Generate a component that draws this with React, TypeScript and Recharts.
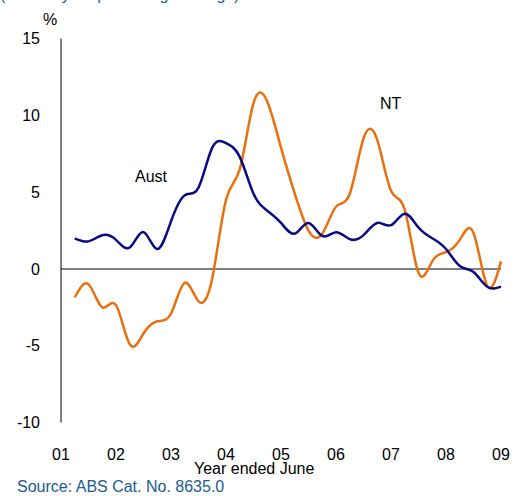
import { LineChart, Line, XAxis, YAxis, ReferenceLine } from 'recharts';

// quarterly, year ended June; Sep-2001 .. Jun-2009
const QUARTERS = [
  2001.25, 2001.5, 2001.75, 2002, 2002.25, 2002.5, 2002.75, 2003,
  2003.25, 2003.5, 2003.75, 2004, 2004.25, 2004.5, 2004.75, 2005,
  2005.25, 2005.5, 2005.75, 2006, 2006.25, 2006.5, 2006.75, 2007,
  2007.25, 2007.5, 2007.75, 2008, 2008.25, 2008.5, 2008.75, 2009,
];
const AUST = [
  2.0, 1.8, 2.2, 1.9, 1.4, 2.4, 1.3, 3.1,
  4.8, 5.3, 7.9, 8.2, 7.3, 4.9, 3.8, 3.0,
  2.3, 3.0, 2.15, 2.4, 1.95, 2.2, 3.0, 2.85,
  3.6, 2.7, 2.0, 1.3, 0.2, -0.2, -1.15, -1.15,
];
const NT = [
  -1.85, -1.0, -2.5, -2.35, -4.9, -4.2, -3.4, -2.9,
  -0.9, -2.1, -0.6, 4.5, 6.5, 10.8, 10.9, 7.9,
  4.9, 2.5, 2.3, 4.05, 4.9, 8.5, 8.4, 5.1,
  3.85, -0.25, 0.5, 1.1, 1.9, 2.35, -1.1, 0.5,
];
const X_TICKS = [2001, 2002, 2003, 2004, 2005, 2006, 2007, 2008, 2009];
const X_LABELS = ['01', '02', '03', '04', '05', '06', '07', '08', '09'];
const Y_TICKS = [-10, -5, 0, 5, 10, 15];

const data = QUARTERS.map((q, i) => ({ q, aust: AUST[i], nt: NT[i] }));

const FONT = '"Liberation Sans", Arial, sans-serif';
const BLUE_TEXT = '#1b5c91';

export default function App() {
  return (
    <div style={{ position: 'absolute', left: 0, top: 0, width: 522, height: 496, overflow: 'hidden', background: '#fff', fontFamily: FONT }}>
      <div style={{ position: 'absolute', left: 0, top: -14, fontSize: 16, color: BLUE_TEXT, whiteSpace: 'nowrap' }}>
        (Year-to-year percentage change)
      </div>
      <LineChart width={522} height={496} data={data} margin={{ top: 38.6, right: 21, bottom: 43.4, left: 0 }}>
        <XAxis
          dataKey="q"
          type="number"
          domain={[2001, 2009]}
          ticks={X_TICKS}
          tickFormatter={(v) => X_LABELS[X_TICKS.indexOf(v)] ?? ''}
          height={30}
          axisLine={false}
          tickLine={false}
          tickSize={0}
          tickMargin={26}
          tick={{ fontSize: 16, fill: '#000', fontFamily: FONT }}
          interval={0}
        />
        <YAxis
          width={61}
          type="number"
          domain={[-10, 15]}
          ticks={Y_TICKS}
          axisLine={{ stroke: '#000', strokeWidth: 1 }}
          tickLine={false}
          tickSize={0}
          tickMargin={21}
          tick={{ fontSize: 16, fill: '#000', fontFamily: FONT }}
          interval={0}
        />
        <ReferenceLine y={0} stroke="#000" strokeWidth={1} />
        <Line type="natural" dataKey="nt" stroke="#e8700f" strokeWidth={2.5} dot={false} isAnimationActive={false} />
        <Line type="natural" dataKey="aust" stroke="#0a0a82" strokeWidth={2.5} dot={false} isAnimationActive={false} />
      </LineChart>
      <div style={{ position: 'absolute', left: 43, top: 11, fontSize: 16, color: '#000' }}>%</div>
      <div style={{ position: 'absolute', left: 135, top: 168, fontSize: 16, color: '#000' }}>Aust</div>
      <div style={{ position: 'absolute', left: 380, top: 95, fontSize: 16, color: '#000' }}>NT</div>
      <div style={{ position: 'absolute', left: 194, top: 460, fontSize: 16, color: '#000', whiteSpace: 'nowrap' }}>Year ended June</div>
      <div style={{ position: 'absolute', left: 17, top: 478, fontSize: 16, color: BLUE_TEXT, whiteSpace: 'nowrap' }}>Source: ABS Cat. No. 8635.0</div>
    </div>
  );
}
